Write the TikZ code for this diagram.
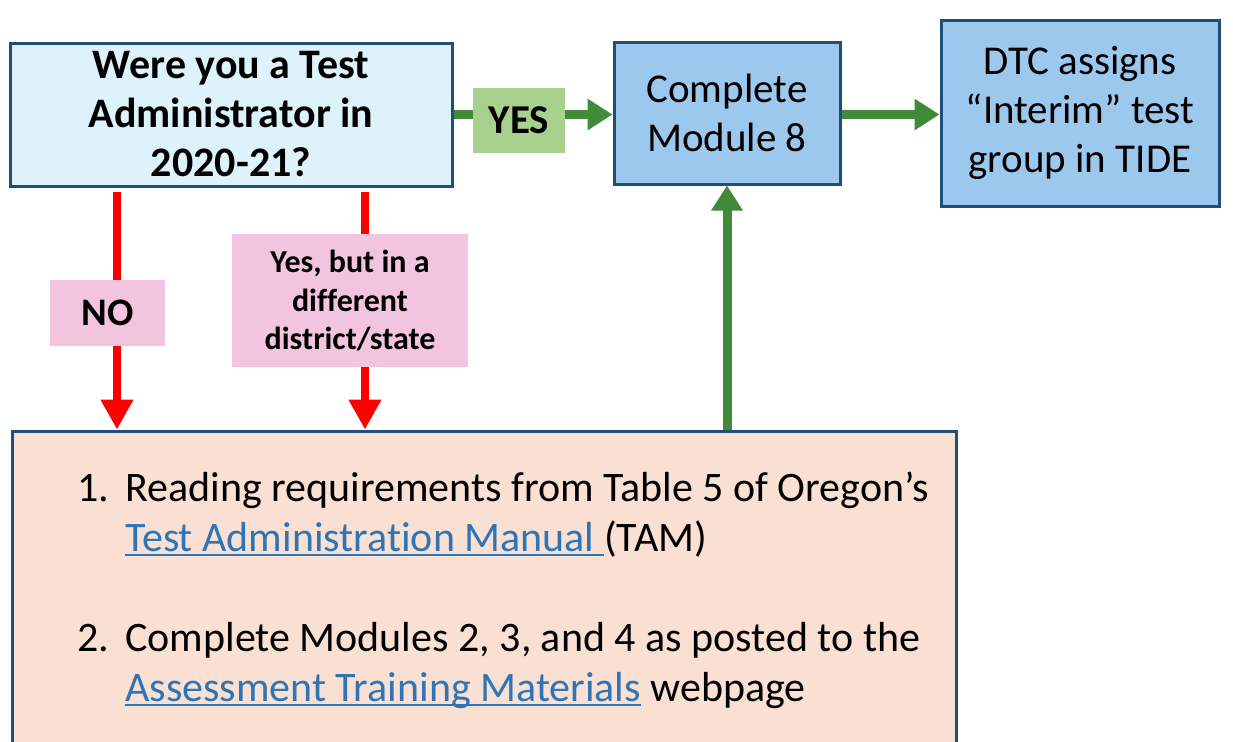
\documentclass[tikz,border=0pt]{standalone}
\usepackage{fontspec}
\setmainfont[Ligatures=NoCommon]{Carlito}
\usepackage{xcolor}
\usepackage{tikz}
\usetikzlibrary{arrows.meta,positioning}

\definecolor{qfill}{HTML}{DEF2FB}
\definecolor{mfill}{HTML}{9DC8EE}
\definecolor{boxline}{HTML}{1F4E79}
\definecolor{tamfill}{HTML}{F9E0D3}
\definecolor{pinklab}{HTML}{F2C4DE}
\definecolor{yesgreen}{HTML}{A9D18E}
\definecolor{arrgreen}{HTML}{3F8B3A}
\definecolor{linkblue}{HTML}{2E75B6}

\newcommand{\tlink}[1]{{\color{linkblue}\setbox0\hbox{#1}\rlap{\rule[-2.5pt]{\wd0}{0.8pt}}\box0}}

\tikzset{
  box/.style={draw=boxline,line width=1.5pt,inner sep=0pt,align=center},
  qbox/.style={box,fill=qfill,font=\fontsize{21}{24.5}\selectfont\bfseries},
  mbox/.style={box,fill=mfill,font=\fontsize{20.5}{24.5}\selectfont},
  lab/.style={inner sep=0pt,align=center,font=\bfseries},
  redarr/.style={draw=red,line width=4pt,-{Triangle[width=15.5pt,length=15pt]}},
  greenarr/.style={draw=arrgreen,line width=4.5pt,-{Triangle[width=15pt,length=12.5pt]}}
}

\begin{document}
\begin{tikzpicture}[x=0.5pt,y=-0.5pt]
\useasboundingbox (0,0) rectangle (1233,741);
\clip (0,0) rectangle (1233,741);
%%the boxes
\node[qbox,minimum width=221pt,minimum height=71.5pt] (q) at (231,114.5)
  {Were you a Test\\Administrator in\\2020-21?};
\node[mbox,minimum width=113pt,minimum height=71pt] (m8) at (727,113)
  {Complete\\Module 8};
\node[mbox,minimum width=139pt,minimum height=93pt] (dtc) at (1080,113)
  {DTC assigns\\“Interim” test\\group in TIDE};
\node[box,fill=tamfill,minimum width=472pt,minimum height=158.5pt] (tam) at (484,589.5) {};
%%the steps in the bottom box
\node[anchor=north west,inner sep=0pt,align=left,font=\fontsize{21}{25}\selectfont] (steps) at (77,471)
  {\makebox[24pt][l]{1.}Reading requirements from Table 5 of Oregon’s\\
   \hspace*{24pt}\tlink{Test Administration Manual\ }(TAM)\\[25pt]
   \makebox[24pt][l]{2.}Complete Modules 2, 3, and 4 as posted to the\\
   \hspace*{24pt}\tlink{Assessment Training Materials} webpage};
%%where the red arrows run
\coordinate (c1) at (117,0);
\coordinate (c2) at (365,0);
\draw[redarr,shorten <=2pt] (q.south -| c1) -- (tam.north -| c1);
\draw[redarr,shorten <=2pt] (q.south -| c2) -- (tam.north -| c2);
%%now the green arrows
\draw[greenarr] (q.east) -- (q.east -| m8.west);
\draw[greenarr] (m8.east |- q.east) -- (dtc.west |- q.east);
\draw[greenarr] (tam.north -| m8) -- (m8.south);
%%finally the labels on the arrows
\node[lab,fill=yesgreen,minimum width=46pt,minimum height=32.5pt,font=\fontsize{20.5}{24}\selectfont\bfseries] (yes) at (519,120.5) {YES};
\node[lab,fill=pinklab,minimum width=57.5pt,minimum height=33pt,font=\fontsize{19.5}{24}\selectfont\bfseries] (no) at (107.5,313) {NO};
\node[lab,fill=pinklab,minimum width=118pt,minimum height=66.5pt,font=\fontsize{16}{19.25}\selectfont\bfseries] (yb) at (350,300.5)
  {Yes, but in a\\different\\district/state};
\end{tikzpicture}
\end{document}
